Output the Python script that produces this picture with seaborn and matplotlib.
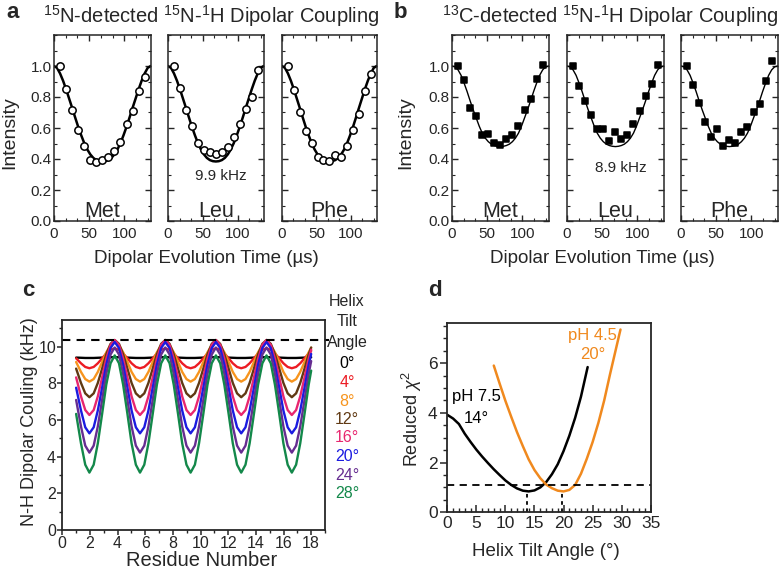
import matplotlib
matplotlib.use('Agg')
import matplotlib.pyplot as plt
import seaborn as sns
from matplotlib.ticker import MultipleLocator

# ---------------- data ----------------
# panels a / b : dipolar dephasing (time in microseconds)
t_pts = [8.6, 17.2, 25.8, 34.4, 43.0, 51.6, 60.2, 68.8, 77.4, 86.0, 94.6, 103.2, 111.8, 120.4, 129.0]
a_met = [1.00, 0.853, 0.717, 0.584, 0.485, 0.392, 0.379, 0.396, 0.412, 0.453, 0.507, 0.623, 0.712, 0.836, 0.931]
a_leu = [1.00, 0.857, 0.716, 0.610, 0.506, 0.455, 0.444, 0.435, 0.446, 0.477, 0.539, 0.626, 0.725, 0.801, 0.974]
a_phe = [1.00, 0.847, 0.701, 0.578, 0.502, 0.413, 0.394, 0.390, 0.425, 0.416, 0.487, 0.589, 0.691, 0.840, 0.946]
b_met = [1.00, 0.907, 0.730, 0.675, 0.556, 0.559, 0.503, 0.492, 0.530, 0.555, 0.610, 0.719, 0.784, 0.918, 1.005]
b_leu = [1.00, 0.870, 0.773, 0.686, 0.593, 0.595, 0.513, 0.574, 0.528, 0.552, 0.628, 0.708, 0.805, 0.886, 1.005]
b_phe = [1.00, 0.877, 0.762, 0.636, 0.545, 0.593, 0.483, 0.524, 0.503, 0.571, 0.607, 0.704, 0.758, 0.903, 1.031]

t_fit = [0, 4.3, 8.6, 12.9, 17.2, 21.5, 25.8, 30.1, 34.4, 38.7, 43.0, 47.3, 51.6, 55.9, 60.2, 64.5,
         68.8, 73.1, 77.4, 81.7, 86.0, 90.3, 94.6, 98.9, 103.2, 107.5, 111.8, 116.1, 120.4, 124.7,
         129.0, 133.3, 137.6]
fit_a = [1.000, 0.988, 0.952, 0.905, 0.850, 0.790, 0.730, 0.668, 0.608, 0.553, 0.503, 0.462, 0.430,
         0.407, 0.393, 0.386, 0.384, 0.386, 0.393, 0.407, 0.430, 0.462, 0.503, 0.553, 0.608, 0.668,
         0.730, 0.790, 0.850, 0.905, 0.952, 0.988, 1.000]
fit_b = [1.000, 0.995, 0.975, 0.940, 0.890, 0.835, 0.775, 0.718, 0.665, 0.612, 0.567, 0.535, 0.512,
         0.496, 0.487, 0.482, 0.480, 0.482, 0.487, 0.496, 0.512, 0.535, 0.567, 0.612, 0.665, 0.718,
         0.775, 0.835, 0.890, 0.940, 0.975, 0.995, 1.000]
residues = ['Met', 'Leu', 'Phe']

# panel c : N-H dipolar coupling vs residue for helix tilt angles
res_x = [1.0, 1.35, 1.66, 1.96, 2.27, 2.57, 2.88, 3.18, 3.49, 3.79, 4.10, 4.40,
         4.71, 5.01, 5.32, 5.62, 5.93, 6.23, 6.54, 6.84, 7.15, 7.45, 7.76, 8.06,
         8.37, 8.67, 8.98, 9.28, 9.59, 9.89, 10.20, 10.50, 10.81, 11.11, 11.42, 11.72,
         12.03, 12.33, 12.64, 12.94, 13.25, 13.55, 13.86, 14.16, 14.47, 14.77, 15.08, 15.38,
         15.69, 15.99, 16.30, 16.60, 16.91, 17.21, 17.52, 17.82, 18.0]
dc_0 = [9.40, 9.39, 9.38, 9.38, 9.38, 9.39, 9.40, 9.41, 9.42, 9.42, 9.42, 9.41,
        9.40, 9.39, 9.38, 9.38, 9.38, 9.39, 9.40, 9.41, 9.42, 9.42, 9.42, 9.41,
        9.40, 9.39, 9.38, 9.38, 9.38, 9.39, 9.40, 9.41, 9.42, 9.42, 9.42, 9.41,
        9.40, 9.39, 9.38, 9.38, 9.38, 9.39, 9.40, 9.41, 9.42, 9.42, 9.42, 9.41,
        9.40, 9.39, 9.38, 9.38, 9.38, 9.39, 9.40, 9.41, 9.42]
dc_4 = [9.36, 9.09, 8.89, 8.82, 8.89, 9.09, 9.36, 9.63, 9.83, 9.90, 9.83, 9.63,
        9.36, 9.09, 8.89, 8.82, 8.89, 9.09, 9.36, 9.63, 9.83, 9.90, 9.83, 9.63,
        9.36, 9.09, 8.89, 8.82, 8.89, 9.09, 9.36, 9.63, 9.83, 9.90, 9.83, 9.63,
        9.36, 9.09, 8.89, 8.82, 8.89, 9.09, 9.36, 9.63, 9.83, 9.90, 9.83, 9.63,
        9.36, 9.09, 8.89, 8.82, 8.89, 9.09, 9.36, 9.63, 9.76]
dc_8 = [9.16, 8.62, 8.23, 8.09, 8.23, 8.62, 9.16, 9.69, 10.08, 10.22, 10.08, 9.69,
        9.16, 8.62, 8.23, 8.09, 8.23, 8.62, 9.16, 9.69, 10.08, 10.22, 10.08, 9.69,
        9.16, 8.62, 8.23, 8.09, 8.23, 8.62, 9.16, 9.69, 10.08, 10.22, 10.08, 9.69,
        9.16, 8.62, 8.23, 8.09, 8.23, 8.62, 9.16, 9.69, 10.08, 10.22, 10.08, 9.69,
        9.16, 8.62, 8.23, 8.09, 8.23, 8.62, 9.16, 9.69, 9.94]
dc_12 = [8.80, 8.02, 7.45, 7.24, 7.45, 8.02, 8.80, 9.58, 10.15, 10.36, 10.15, 9.58,
         8.80, 8.02, 7.45, 7.24, 7.45, 8.02, 8.80, 9.58, 10.15, 10.36, 10.15, 9.58,
         8.80, 8.02, 7.45, 7.24, 7.45, 8.02, 8.80, 9.58, 10.15, 10.36, 10.15, 9.58,
         8.80, 8.02, 7.45, 7.24, 7.45, 8.02, 8.80, 9.58, 10.15, 10.36, 10.15, 9.58,
         8.80, 8.02, 7.45, 7.24, 7.45, 8.02, 8.80, 9.58, 9.95]
dc_16 = [8.32, 7.29, 6.54, 6.27, 6.54, 7.29, 8.32, 9.34, 10.09, 10.36, 10.09, 9.34,
         8.32, 7.29, 6.54, 6.27, 6.54, 7.29, 8.32, 9.34, 10.09, 10.36, 10.09, 9.34,
         8.32, 7.29, 6.54, 6.27, 6.54, 7.29, 8.32, 9.34, 10.09, 10.36, 10.09, 9.34,
         8.32, 7.29, 6.54, 6.27, 6.54, 7.29, 8.32, 9.34, 10.09, 10.36, 10.09, 9.34,
         8.32, 7.29, 6.54, 6.27, 6.54, 7.29, 8.32, 9.34, 9.83]
dc_20 = [7.76, 6.52, 5.60, 5.27, 5.60, 6.52, 7.76, 9.01, 9.92, 10.25, 9.92, 9.01,
         7.76, 6.52, 5.60, 5.27, 5.60, 6.52, 7.76, 9.01, 9.92, 10.25, 9.92, 9.01,
         7.76, 6.52, 5.60, 5.27, 5.60, 6.52, 7.76, 9.01, 9.92, 10.25, 9.92, 9.01,
         7.76, 6.52, 5.60, 5.27, 5.60, 6.52, 7.76, 9.01, 9.92, 10.25, 9.92, 9.01,
         7.76, 6.52, 5.60, 5.27, 5.60, 6.52, 7.76, 9.01, 9.60]
dc_24 = [7.09, 5.65, 4.60, 4.22, 4.60, 5.65, 7.09, 8.52, 9.57, 9.95, 9.57, 8.52,
         7.09, 5.65, 4.60, 4.22, 4.60, 5.65, 7.09, 8.52, 9.57, 9.95, 9.57, 8.52,
         7.09, 5.65, 4.60, 4.22, 4.60, 5.65, 7.09, 8.52, 9.57, 9.95, 9.57, 8.52,
         7.09, 5.65, 4.60, 4.22, 4.60, 5.65, 7.09, 8.52, 9.57, 9.95, 9.57, 8.52,
         7.09, 5.65, 4.60, 4.22, 4.60, 5.65, 7.09, 8.52, 9.21]
dc_28 = [6.33, 4.73, 3.56, 3.13, 3.56, 4.73, 6.33, 7.92, 9.09, 9.52, 9.09, 7.92,
         6.33, 4.73, 3.56, 3.13, 3.56, 4.73, 6.33, 7.92, 9.09, 9.52, 9.09, 7.92,
         6.33, 4.73, 3.56, 3.13, 3.56, 4.73, 6.33, 7.92, 9.09, 9.52, 9.09, 7.92,
         6.33, 4.73, 3.56, 3.13, 3.56, 4.73, 6.33, 7.92, 9.09, 9.52, 9.09, 7.92,
         6.33, 4.73, 3.56, 3.13, 3.56, 4.73, 6.33, 7.92, 8.69]
tilt_labels = ['0°', '4°', '8°', '12°', '16°', '20°', '24°', '28°']
tilt_colors = ['#000000', '#EC1C24', '#F7941D', '#603913', '#E8266F', '#1B1BE0', '#662D91', '#13884A']
max_coupling = 10.36

# panel d : reduced chi^2 vs helix tilt angle
d_x75 = [0, 1, 2, 3, 4, 5, 6, 7, 8, 9, 10, 11, 12, 13, 14, 15, 16, 17, 18, 19, 20, 21, 22, 23, 24.15]
d_y75 = [3.92, 3.77, 3.55, 3.16, 2.83, 2.52, 2.24, 1.98, 1.73, 1.50, 1.28, 1.10, 0.96, 0.87, 0.84,
         0.88, 1.00, 1.21, 1.53, 1.93, 2.46, 3.08, 3.80, 4.65, 5.84]
d_x45 = [8, 9, 10, 11, 12, 13, 14, 15, 16, 17, 18, 19, 20, 21, 22, 23, 24, 25, 26, 27, 28, 29, 29.8]
d_y45 = [5.90, 5.18, 4.48, 3.84, 3.22, 2.66, 2.13, 1.70, 1.37, 1.12, 0.97, 0.87, 0.84, 0.90, 1.10,
         1.55, 2.15, 2.82, 3.60, 4.50, 5.55, 6.55, 7.35]
chi_threshold = 1.1
best_tilt = [13.7, 19.8]
best_chi = [0.84, 0.84]
orange = '#F0891E'

# ---------------- style ----------------
sns.set_theme(style='ticks')
plt.rcParams['font.family'] = ['Liberation Sans', 'DejaVu Sans']
plt.rcParams['mathtext.fontset'] = 'custom'
plt.rcParams['mathtext.rm'] = 'Liberation Sans'
plt.rcParams['mathtext.it'] = 'Liberation Sans:italic'
plt.rcParams['mathtext.bf'] = 'Liberation Sans:bold'

W, H = 780, 569
fig = plt.figure(figsize=(W / 100, H / 100), dpi=100)


def add_ax(l, t, r, b):
    return fig.add_axes([l / W, 1 - b / H, (r - l) / W, (b - t) / H])


def ftext(x, y, s, **kw):
    kw.setdefault('ha', 'center')
    kw.setdefault('va', 'center')
    fig.text(x / W, 1 - y / H, s, **kw)


# ---------------- panels a and b ----------------
def dephasing_row(boxes, series, fit, marker, face, msize, fitlw, khz):
    for i, ((l, r), name, vals) in enumerate(zip(boxes, residues, series)):
        ax = add_ax(l, 35, r, 221)
        sns.lineplot(x=t_fit, y=fit, ax=ax, color='black', lw=fitlw, estimator=None, sort=False)
        sns.scatterplot(x=t_pts, y=vals, ax=ax, marker=marker, s=msize, color=face,
                        edgecolor='black', linewidth=1.1, zorder=3, clip_on=False)
        ax.set_xlim(0, 138)
        ax.set_ylim(0, 1.2)
        ax.set_xticks([0, 50, 100])
        ax.xaxis.set_minor_locator(MultipleLocator(50 / 3))
        ax.set_yticks([0, 0.2, 0.4, 0.6, 0.8, 1.0])
        ax.yaxis.set_minor_locator(MultipleLocator(0.1))
        ax.tick_params(which='both', direction='in', top=True, right=True, labelsize=11)
        ax.tick_params(which='major', length=4, width=1)
        ax.tick_params(which='minor', length=2, width=0.8)
        ax.tick_params(axis='y', pad=1.5)
        ax.tick_params(axis='x', pad=4)
        if i > 0:
            ax.tick_params(labelleft=False)
        else:
            ax.set_yticklabels(['0.0', '0.2', '0.4', '0.6', '0.8', '1.0'])
        ax.set_xlabel('')
        ax.set_ylabel('')
        for sp in ax.spines.values():
            sp.set_linewidth(1.1)
        ax.text(69, 0.025, name, ha='center', va='baseline', fontsize=15.5)
        if i == 1:
            ax.text(khz[1], khz[2], khz[0], ha='center', va='baseline', fontsize=11)


dephasing_row([(54, 151), (168, 264), (282, 377)], [a_met, a_leu, a_phe], fit_a,
              'o', 'white', 28, 1.8, ('9.9 kHz', 76, 0.265))
dephasing_row([(452, 549), (567, 664), (681, 778)], [b_met, b_leu, b_phe], fit_b,
              's', 'black', 14, 1.0, ('8.9 kHz', 76, 0.318))

ftext(13, 13, 'a', fontsize=16, fontweight='bold')
ftext(211, 16, r'$^{15}$N-detected $^{15}$N-$^{1}$H Dipolar Coupling', fontsize=14.5)
ftext(400, 13, 'b', fontsize=16, fontweight='bold')
ftext(610, 16, r'$^{13}$C-detected $^{15}$N-$^{1}$H Dipolar Coupling', fontsize=14.5)
ftext(206, 259, 'Dipolar Evolution Time (µs)', fontsize=13.5)
ftext(602, 259, 'Dipolar Evolution Time (µs)', fontsize=13.5)
ftext(10, 133, 'Intensity', fontsize=14, rotation=90)
ftext(406, 133, 'Intensity', fontsize=14, rotation=90)

# ---------------- panel c ----------------
axc = add_ax(62.3, 320, 325, 530)
for vals, col in zip([dc_0, dc_4, dc_8, dc_12, dc_16, dc_20, dc_24, dc_28], tilt_colors):
    sns.lineplot(x=res_x, y=vals, ax=axc, color=col, lw=1.7, estimator=None, sort=False)
axc.plot([0, 19.3], [max_coupling, max_coupling], color='black', lw=1.5,
         ls=(0, (4, 3)), clip_on=False)
axc.set_xlim(0, 19)
axc.set_ylim(0, 11.45)
axc.set_xticks(range(0, 19, 2))
axc.xaxis.set_minor_locator(MultipleLocator(1))
axc.set_yticks(range(0, 11, 2))
axc.yaxis.set_minor_locator(MultipleLocator(1))
axc.tick_params(which='both', direction='out', labelsize=11.5, pad=1)
axc.tick_params(which='major', length=3.5, width=1.1)
axc.tick_params(which='minor', length=2.5, width=1.0)
axc.set_xlabel('')
axc.set_ylabel('')
for sp in axc.spines.values():
    sp.set_linewidth(1.3)
ftext(28, 291, 'c', fontsize=16, fontweight='bold')
ftext(30, 422, 'N-H Dipolar Couling (kHz)', fontsize=13, rotation=90)
ftext(202, 566, 'Residue Number', fontsize=14.5, va='baseline')
for j, s in enumerate(['Helix', 'Tilt', 'Angle']):
    ftext(347, 302 + 20 * j, s, fontsize=11.5)
for j, (s, col) in enumerate(zip(tilt_labels, tilt_colors)):
    ftext(347, 364 + 18.5 * j, s, fontsize=11.5, color=col)

# ---------------- panel d ----------------
axd = add_ax(447.3, 323.3, 650.7, 512.3)
sns.lineplot(x=d_x75, y=d_y75, ax=axd, color='black', lw=1.8, estimator=None, sort=False)
sns.lineplot(x=d_x45, y=d_y45, ax=axd, color=orange, lw=1.8, estimator=None, sort=False)
axd.axhline(chi_threshold, color='black', lw=1.3, ls=(0, (4, 3)))
for bx, by in zip(best_tilt, best_chi):
    axd.plot([bx, bx], [0, by], color='black', lw=1.3, ls=(0, (2, 2)))
axd.set_xlim(0, 35)
axd.set_ylim(0, 7.6)
axd.set_xticks(range(0, 36, 5))
axd.xaxis.set_minor_locator(MultipleLocator(1))
axd.set_yticks([0, 2, 4, 6])
axd.yaxis.set_minor_locator(MultipleLocator(0.5))
axd.tick_params(axis='x', which='both', direction='in', labelsize=12.5, pad=3)
axd.tick_params(axis='y', which='both', direction='out', labelsize=12.5, pad=2)
axd.tick_params(which='major', length=5, width=1.1)
axd.tick_params(which='minor', length=3, width=1.0)
axd.set_xlabel('')
axd.set_ylabel('')
for sp in axd.spines.values():
    sp.set_linewidth(1.3)
axd.text(5.05, 4.66, 'pH 7.5', ha='center', va='center', fontsize=12, color='black')
axd.text(5.05, 3.79, '14°', ha='center', va='center', fontsize=12, color='black')
axd.text(24.9, 7.1, 'pH 4.5', ha='center', va='center', fontsize=12, color=orange)
axd.text(25.1, 6.34, '20°', ha='center', va='center', fontsize=12, color=orange)
ftext(435, 290, 'd', fontsize=16, fontweight='bold')
ftext(412, 419, r'Reduced $\chi^2$', fontsize=13, rotation=90)
ftext(546, 551, 'Helix Tilt Angle (°)', fontsize=13.5)

fig.savefig('out.png', dpi=100)
